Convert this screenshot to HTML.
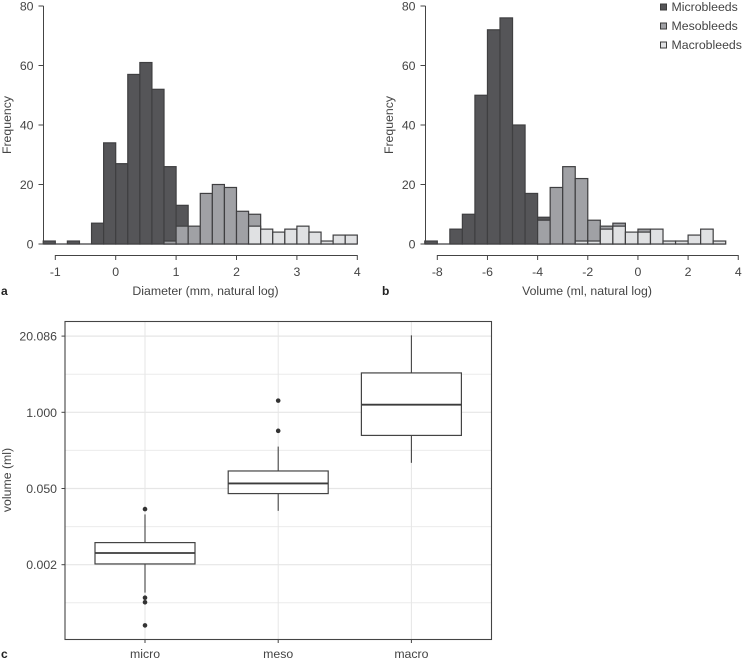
<!DOCTYPE html>
<html lang="en">
<head>
<meta charset="utf-8">
<title>Bleed size histograms and boxplot</title>
<style>
html,body{margin:0;padding:0;background:#fff;}
svg{display:block;font-family:"Liberation Sans",sans-serif;fill:#444;filter:blur(0.3px);}
text{font-size:12.3px;fill:#444;}
.panel-letter{font-weight:bold;fill:#222;font-size:12px;}
</style>
</head>
<body>
<svg id="chart" width="742" height="663" viewBox="0 0 742 663" xmlns="http://www.w3.org/2000/svg">
  <g id="panel-a"></g>
  <g id="panel-b"></g>
  <g id="panel-c"></g>
  <g>
    <rect x="660.5" y="4" width="6" height="6" fill="#555558" stroke="#3c3c3c"/>
    <text x="671.5" y="11">Microbleeds</text>
    <rect x="660.5" y="23" width="6" height="6" fill="#a0a1a5" stroke="#3c3c3c"/>
    <text x="671.5" y="30">Mesobleeds</text>
    <rect x="660.5" y="42" width="6" height="6" fill="#e0e1e3" stroke="#3c3c3c"/>
    <text x="671.5" y="49">Macrobleeds</text>
  </g>
  <text class="panel-letter" x="1" y="295">a</text>
  <text class="panel-letter" x="382" y="295">b</text>
  <text class="panel-letter" x="1" y="658">c</text>
</svg>
<script>
// Panel a: diameter histogram (natural log mm), bin start -1.2, width 0.2
const aBinStart = -1.2;
const aBinWidth = 0.2;
const aMicro = [1,0,1,0,7,34,27,57,61,52,26,13,0,0,0,0,0,0,0,0,0,0,0,0,0,0];
const aMeso  = [0,0,0,0,0,0,0,0,0,0,1,6,6,17,20,19,11,10,0,0,0,0,0,0,0,0];
const aMacro = [0,0,0,0,0,0,0,0,0,0,0,0,0,0,0,0,0,6,5,4,5,6,4,1,3,3];
const aXTicks = [-1,0,1,2,3,4];
// Panel b: volume histogram (natural log ml), bin start -8.5, width 0.5
const bBinStart = -8.5;
const bBinWidth = 0.5;
const bMicro = [1,0,5,10,50,72,76,40,17,9,0,0,0,0,0,0,0,0,0,0,0,0,0,0];
const bMeso  = [0,0,0,0,0,0,0,0,0,8,19,26,22,8,6,7,4,5,0,0,0,0,0,0];
const bMacro = [0,0,0,0,0,0,0,0,0,0,0,0,1,1,5,6,4,4,5,1,1,3,5,1];
const bXTicks = [-8,-6,-4,-2,0,2,4];
const freqTicks = [0,20,40,60,80];
// Panel c: boxplot values in natural log of ml
const boxCategories = ['micro','meso','macro'];
const boxQ1 = [-5.97,-3.20,-0.91];
const boxMedian = [-5.54,-2.80,0.30];
const boxQ3 = [-5.13,-2.31,1.55];
const boxWhiskerLow = [-7.10,-3.88,-1.99];
const boxWhiskerHigh = [-4.02,-1.35,3.03];
const boxOutliers = [[-3.81,-7.30,-7.48,-8.39],[0.46,-0.73],[]];
const boxYTicks = [3,0,-3,-6];
const boxYLabels = ['20.086','1.000','0.050','0.002'];
const boxYMinor = [1.5,-1.5,-4.5,-7.5];

const NS = 'http://www.w3.org/2000/svg';
function make(parent, tag, attrs, txt){
  const el = document.createElementNS(NS, tag);
  for (const k in attrs) el.setAttribute(k, attrs[k]);
  if (txt !== undefined) el.textContent = txt;
  parent.appendChild(el);
  return el;
}

function histogram(panelId, opts){
  const g = document.getElementById(panelId);
  const x = v => opts.x0 + (v - opts.xRef) * opts.xScale;
  const y = v => 244 - v * 2.975;
  const series = [
    {name:'micro', values:opts.micro, fill:'#555558'},
    {name:'meso', values:opts.meso, fill:'#a0a1a5'},
    {name:'macro', values:opts.macro, fill:'#e0e1e3'}
  ];
  const last = opts.micro.length;
  const base = make(g, 'line', {x1:x(opts.binStart), x2:x(opts.binStart + last * opts.binWidth), y1:y(0), y2:y(0), stroke:'#3f3f41', 'stroke-width':1.2});
  
  
  series.forEach(s => {
    s.values.forEach((v, i) => {
      if (v <= 0) return;
      const left = x(opts.binStart + i * opts.binWidth);
      const right = x(opts.binStart + (i + 1) * opts.binWidth);
      const bar = make(g, 'rect', {x:left, y:y(v), width:right-left, height:244-y(v), fill:s.fill, stroke:'#3f3f41', 'stroke-width':1.2});
      
      
    });
  });
  const yAxis = make(g, 'line', {x1:opts.axisX, x2:opts.axisX, y1:y(80), y2:y(0), stroke:'#444', 'stroke-width':1});
  
  
  freqTicks.forEach(t => {
    const tick = make(g, 'line', {x1:opts.axisX-5, x2:opts.axisX, y1:y(t), y2:y(t), stroke:'#444', 'stroke-width':1});
    
    
    const lab = make(g, 'text', {x:opts.axisX-10, y:y(t)+4.5, 'text-anchor':'end'}, String(t));
    
    
  });
  const ticks = opts.ticks;
  const xAxis = make(g, 'line', {x1:x(ticks[0]), x2:x(ticks[ticks.length-1]), y1:255.5, y2:255.5, stroke:'#444', 'stroke-width':1});
  
  
  ticks.forEach(t => {
    const tick = make(g, 'line', {x1:x(t), x2:x(t), y1:255, y2:260, stroke:'#444', 'stroke-width':1});
    
    
    const lab = make(g, 'text', {x:x(t), y:276, 'text-anchor':'middle'}, String(t));
    
    
  });
  const xt = make(g, 'text', {x:opts.titleX, y:295, 'text-anchor':'middle'}, opts.xTitle);
  
  
  const yt = make(g, 'text', {x:0, y:0, 'text-anchor':'middle', transform:'translate(' + opts.yTitleX + ',125) rotate(-90)'}, 'Frequency');
  
  
}

histogram('panel-a', {x0:55.3, xRef:-1, xScale:60.4, axisX:43.5, binStart:aBinStart, binWidth:aBinWidth,
  micro:aMicro, meso:aMeso, macro:aMacro, ticks:aXTicks, xTitle:'Diameter (mm, natural log)', titleX:205.5, yTitleX:11});
histogram('panel-b', {x0:437.3, xRef:-8, xScale:25.08, axisX:425.5, binStart:bBinStart, binWidth:bBinWidth,
  micro:bMicro, meso:bMeso, macro:bMacro, ticks:bXTicks, xTitle:'Volume (ml, natural log)', titleX:587, yTitleX:393});

(function(){
  const g = document.getElementById('panel-c');
  const left = 65, right = 491.5, top = 321.5, bottom = 639.5;
  const x = i => 145 + i * 133.2;
  const y = v => 412.3 - v * 25.4;
  const boxW = 100;
  boxYMinor.forEach(t => {
    const l = make(g, 'line', {x1:left, x2:right, y1:y(t), y2:y(t), stroke:'#ececec', 'stroke-width':1});
    
    
  });
  boxYTicks.forEach(t => {
    const l = make(g, 'line', {x1:left, x2:right, y1:y(t), y2:y(t), stroke:'#e6e6e6', 'stroke-width':1.2});
    
    
  });
  boxCategories.forEach((c, i) => {
    const l = make(g, 'line', {x1:x(i), x2:x(i), y1:top, y2:bottom, stroke:'#e6e6e6', 'stroke-width':1});
    
    
  });
  boxCategories.forEach((c, i) => {
    const w1 = make(g, 'line', {x1:x(i), x2:x(i), y1:y(boxQ3[i]), y2:y(boxWhiskerHigh[i]), stroke:'#444', 'stroke-width':1.1});
    
    
    const w2 = make(g, 'line', {x1:x(i), x2:x(i), y1:y(boxQ1[i]), y2:y(boxWhiskerLow[i]), stroke:'#444', 'stroke-width':1.1});
    
    
    const box = make(g, 'rect', {x:x(i)-boxW/2, y:y(boxQ3[i]), width:boxW, height:y(boxQ1[i])-y(boxQ3[i]), fill:'#fff', stroke:'#444', 'stroke-width':1.2});
    
    
    const med = make(g, 'line', {x1:x(i)-boxW/2, x2:x(i)+boxW/2, y1:y(boxMedian[i]), y2:y(boxMedian[i]), stroke:'#3c3c3c', 'stroke-width':1.8});
    
    
    boxOutliers[i].forEach(v => {
      const dot = make(g, 'circle', {cx:x(i), cy:y(v), r:2.3, fill:'#333'});
      
      
    });
    const tick = make(g, 'line', {x1:x(i), x2:x(i), y1:bottom, y2:bottom+3.5, stroke:'#444', 'stroke-width':1});
    
    
    const lab = make(g, 'text', {x:x(i), y:658, 'text-anchor':'middle'}, c);
    
    
  });
  boxYTicks.forEach((t, i) => {
    const tick = make(g, 'line', {x1:left-3.5, x2:left, y1:y(t), y2:y(t), stroke:'#444', 'stroke-width':1});
    
    
    const lab = make(g, 'text', {x:57, y:y(t)+4.5, 'text-anchor':'end'}, boxYLabels[i]);
    
    
  });
  const frame = make(g, 'rect', {x:left, y:top, width:right-left, height:bottom-top, fill:'none', stroke:'#444', 'stroke-width':1.1});
  
  
  const yt = make(g, 'text', {x:0, y:0, 'text-anchor':'middle', transform:'translate(11,480) rotate(-90)'}, 'volume (ml)');
  
  
})();
</script>
</body>
</html>
